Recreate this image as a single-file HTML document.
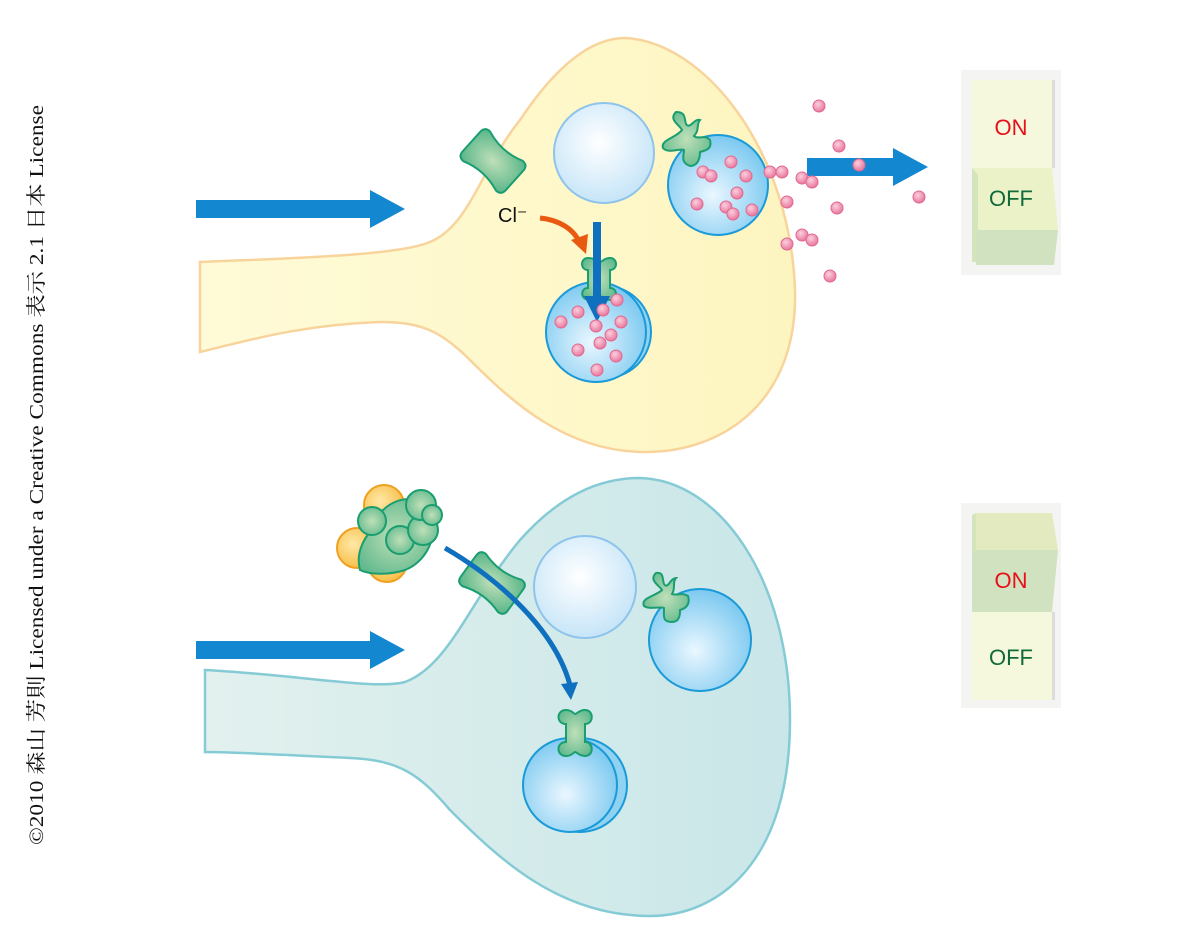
<!DOCTYPE html>
<html><head><meta charset="utf-8"><style>
html,body{margin:0;padding:0;background:#fff;width:1200px;height:948px;overflow:hidden}
</style></head><body>
<svg width="1200" height="948" viewBox="0 0 1200 948" xmlns="http://www.w3.org/2000/svg">
<defs>
<radialGradient id="ve" cx="0.45" cy="0.4" r="0.6"><stop offset="0" stop-color="#ffffff"/><stop offset="1" stop-color="#c6e5f8"/></radialGradient>
<radialGradient id="vf" cx="0.45" cy="0.6" r="0.6"><stop offset="0" stop-color="#eaf7ff"/><stop offset="1" stop-color="#7cc9f0"/></radialGradient>
<radialGradient id="gr" cx="0.5" cy="0.5" r="0.6"><stop offset="0" stop-color="#bfe0b8"/><stop offset="1" stop-color="#62b98e"/></radialGradient>
<radialGradient id="pk" cx="0.4" cy="0.35" r="0.6"><stop offset="0" stop-color="#fbd0de"/><stop offset="1" stop-color="#ea7ea3"/></radialGradient>
<radialGradient id="og" cx="0.4" cy="0.4" r="0.6"><stop offset="0" stop-color="#ffe9a8"/><stop offset="1" stop-color="#f8bf4a"/></radialGradient>
<linearGradient id="tl" x1="0" x2="1"><stop offset="0" stop-color="#e2f1ee"/><stop offset="1" stop-color="#c9e6e8"/></linearGradient>
<linearGradient id="yl" x1="0" x2="1"><stop offset="0" stop-color="#fffbd8"/><stop offset="1" stop-color="#fdf5c0"/></linearGradient>
</defs>

<path d="M200,262 C300,258 400,255 430,242 C470,225 480,170 520,120 C560,60 595,38 625,38 C705,42 790,150 795,290 C798,400 725,452 645,452 C565,452 510,400 470,360 C440,330 420,322 380,322 C300,325 250,340 200,352 Z" fill="url(#yl)" stroke="#f8d49c" stroke-width="2.5"/>
<path d="M205,670 C300,675 375,690 405,682 C450,665 470,600 520,540 C560,495 600,478 640,478 C720,480 790,580 790,720 C790,860 720,916 650,916 C560,916 500,860 450,810 C420,775 400,760 350,758 C280,755 240,752 205,752 Z" fill="url(#tl)" stroke="#85cbd5" stroke-width="2.5"/>

<polygon points="196,200 370,200 370,190 405,209 370,228 370,218 196,218" fill="#1388d0"/>
<polygon points="196,641 370,641 370,631 405,650 370,669 370,659 196,659" fill="#1388d0"/>
<polygon points="807,158 893,158 893,148 928,167 893,186 893,176 807,176" fill="#1388d0"/>

<circle cx="604" cy="153" r="50" fill="url(#ve)" stroke="#8ec4ec" stroke-width="2"/>
<circle cx="718" cy="185" r="50" fill="url(#vf)" stroke="#1a9ad8" stroke-width="2"/>
<circle cx="605" cy="332" r="46" fill="#8fd2f2" stroke="#1a9ad8" stroke-width="2"/>
<circle cx="596" cy="332" r="50" fill="url(#vf)" stroke="#1a9ad8" stroke-width="2"/>

<path transform="translate(493,161) rotate(42)" d="M-22,-20 Q0,-12 22,-20 Q29,-20 29,-13 L29,13 Q29,20 22,20 Q0,12 -22,20 Q-29,20 -29,13 L-29,-13 Q-29,-20 -22,-20 Z" fill="url(#gr)" stroke="#1a9e70" stroke-width="2" stroke-linejoin="round"/>
<path d="M676,112 C668,120 680,125 682,130 C676,138 660,140 663,148 C668,154 680,148 684,150 C684,156 680,162 690,166 C698,166 700,158 700,152 C708,150 712,148 710,140 C705,134 698,140 694,136 C700,130 696,124 700,120 C694,118 690,130 686,124 C684,118 686,112 676,112 Z" fill="url(#gr)" stroke="#1a9e70" stroke-width="2"/>
<path d="M588,258 C580,258 580,270 588,270 L588,288 C580,288 580,300 590,300 C596,300 598,296 600,296 C602,296 604,300 610,300 C618,300 618,288 610,288 L610,270 C618,270 618,258 610,258 C604,258 602,262 600,262 C598,262 596,258 588,258 Z" fill="url(#gr)" stroke="#1a9e70" stroke-width="2"/>

<text x="498" y="222" font-family="Liberation Sans, sans-serif" font-size="20" fill="#111">Cl⁻</text>
<path d="M540,218 C560,220 575,230 580,244" fill="none" stroke="#e85a10" stroke-width="5"/>
<polygon points="571,240 586,254 588,234" fill="#e85a10"/>
<rect x="593" y="222" width="8" height="76" fill="#1070c0"/>
<polygon points="584,296 610,296 597,322" fill="#1070c0"/>

<g fill="url(#pk)" stroke="#e06890" stroke-width="1">
<circle cx="703" cy="172" r="6"/><circle cx="711" cy="176" r="6"/><circle cx="731" cy="162" r="6"/><circle cx="746" cy="176" r="6"/><circle cx="737" cy="193" r="6"/><circle cx="697" cy="204" r="6"/><circle cx="726" cy="207" r="6"/><circle cx="733" cy="214" r="6"/><circle cx="752" cy="210" r="6"/>
<circle cx="770" cy="172" r="6"/><circle cx="782" cy="172" r="6"/><circle cx="802" cy="178" r="6"/><circle cx="812" cy="182" r="6"/><circle cx="787" cy="202" r="6"/><circle cx="802" cy="235" r="6"/><circle cx="812" cy="240" r="6"/><circle cx="787" cy="244" r="6"/><circle cx="819" cy="106" r="6"/><circle cx="839" cy="146" r="6"/><circle cx="859" cy="165" r="6"/><circle cx="837" cy="208" r="6"/><circle cx="919" cy="197" r="6"/><circle cx="830" cy="276" r="6"/>
<circle cx="561" cy="322" r="6"/><circle cx="578" cy="312" r="6"/><circle cx="596" cy="326" r="6"/><circle cx="611" cy="335" r="6"/><circle cx="617" cy="300" r="6"/><circle cx="603" cy="310" r="6"/><circle cx="621" cy="322" r="6"/><circle cx="600" cy="343" r="6"/><circle cx="578" cy="350" r="6"/><circle cx="616" cy="356" r="6"/><circle cx="597" cy="370" r="6"/>
</g>

<circle cx="585" cy="587" r="51" fill="url(#ve)" stroke="#8ec4ec" stroke-width="2"/>
<circle cx="700" cy="640" r="51" fill="url(#vf)" stroke="#1a9ad8" stroke-width="2"/>
<circle cx="580" cy="785" r="47" fill="#8fd2f2" stroke="#1a9ad8" stroke-width="2"/>
<circle cx="570" cy="785" r="47" fill="url(#vf)" stroke="#1a9ad8" stroke-width="2"/>

<path transform="translate(492,583) rotate(36)" d="M-22,-20 Q0,-12 22,-20 Q29,-20 29,-13 L29,13 Q29,20 22,20 Q0,12 -22,20 Q-29,20 -29,13 L-29,-13 Q-29,-20 -22,-20 Z" fill="url(#gr)" stroke="#1a9e70" stroke-width="2" stroke-linejoin="round"/>
<path d="M656,573 C648,580 660,586 662,590 C656,596 640,598 644,606 C650,610 660,606 664,608 C664,616 662,622 672,622 C680,622 680,614 680,610 C688,608 690,602 688,596 C682,592 676,596 672,594 C676,588 672,582 676,578 C670,578 668,590 664,584 C662,578 664,572 656,573 Z" fill="url(#gr)" stroke="#1a9e70" stroke-width="2"/>
<path d="M566,710 C556,710 556,724 566,724 L566,742 C556,742 556,756 566,756 C572,756 574,752 575,752 C577,752 579,756 585,756 C594,756 594,742 585,742 L585,724 C594,724 594,710 585,710 C579,710 577,714 575,714 C574,714 572,710 566,710 Z" fill="url(#gr)" stroke="#1a9e70" stroke-width="2"/>

<path d="M445,548 C500,580 555,630 570,685" fill="none" stroke="#1070c0" stroke-width="5"/>
<polygon points="561,684 578,682 571,700" fill="#1070c0"/>

<g stroke="#f0a020" stroke-width="2" fill="url(#og)">
<circle cx="384" cy="505" r="20"/><circle cx="357" cy="548" r="20"/><circle cx="387" cy="562" r="20"/>
</g>
<g stroke="#1a9e70" stroke-width="2" fill="url(#gr)">
<path d="M372,530 C380,500 410,492 430,505 C440,530 430,560 405,570 C390,575 370,575 360,570 C356,555 362,540 372,530 Z"/>
<circle cx="372" cy="521" r="14"/><circle cx="400" cy="540" r="14"/><circle cx="423" cy="530" r="15"/><circle cx="421" cy="505" r="15"/><circle cx="432" cy="515" r="10"/>
</g>

<rect x="961" y="70" width="100" height="205" fill="#f4f5f3"/>
<rect x="972" y="80" width="80" height="88" fill="#f5f8dc"/>
<polygon points="972,168 1052,168 1058,230 972,230" fill="#ecf2c8"/>
<polygon points="972,168 978,175 978,262 972,262" fill="#d4e4bc"/>
<polygon points="976,230 1058,230 1054,265 976,265" fill="#d0e2c0"/>
<rect x="1052" y="80" width="3" height="88" fill="#dcdcdc"/>
<text x="1011" y="135" text-anchor="middle" font-family="Liberation Sans, sans-serif" font-size="22" fill="#e8101a">ON</text>
<text x="1011" y="206" text-anchor="middle" font-family="Liberation Sans, sans-serif" font-size="22" fill="#106a3a">OFF</text>

<rect x="961" y="503" width="100" height="205" fill="#f4f5f3"/>
<polygon points="976,513 1052,513 1058,550 976,550" fill="#e3eac0"/>
<polygon points="972,515 976,513 976,612 972,612" fill="#d4e4bc"/>
<polygon points="972,550 1058,550 1052,612 972,612" fill="#d0e2c0"/>
<rect x="972" y="612" width="80" height="88" fill="#f5f8dc"/>
<rect x="1052" y="612" width="3" height="88" fill="#dcdcdc"/>
<text x="1011" y="588" text-anchor="middle" font-family="Liberation Sans, sans-serif" font-size="22" fill="#e8101a">ON</text>
<text x="1011" y="665" text-anchor="middle" font-family="Liberation Sans, sans-serif" font-size="22" fill="#106a3a">OFF</text>

<text transform="translate(43,475) rotate(-90)" text-anchor="middle" font-family="Liberation Serif, Noto Serif CJK SC, serif" font-size="20" fill="#111" textLength="740" lengthAdjust="spacingAndGlyphs">©2010 森山 芳則 Licensed under a Creative Commons 表示 2.1 日本 License</text>
</svg>
</body></html>
